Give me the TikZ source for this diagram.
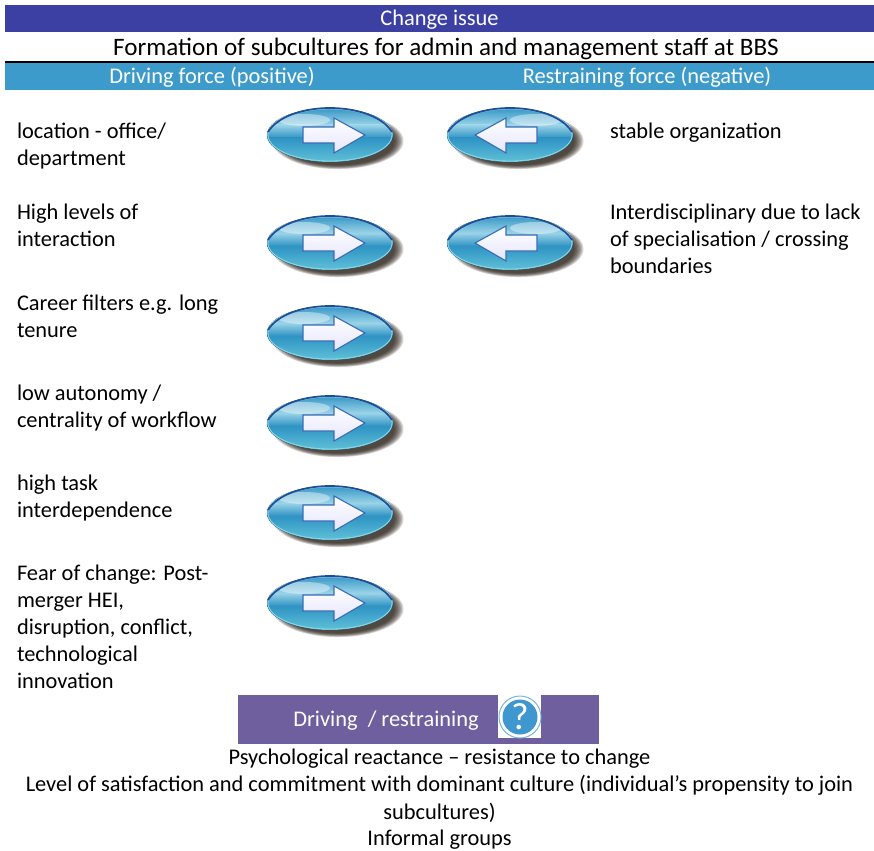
\documentclass[tikz,border=0pt]{standalone}
\usepackage{fontspec}
\setmainfont{Carlito}[Ligatures=Common]
\definecolor{barindigo}{HTML}{3D40A3}
\definecolor{barblue}{HTML}{3C9BCB}
\definecolor{barpurple}{HTML}{6F5F9E}
\definecolor{btnrim}{HTML}{1F4E96}
\definecolor{btnlight}{HTML}{9AD3E8}
\definecolor{btnmid}{HTML}{2F93C4}
\definecolor{btnlow}{HTML}{62C3D8}
\definecolor{arrowedge}{HTML}{3A6CB4}
\definecolor{helpblue}{HTML}{3F97CF}
\tikzset{
  x=1pt,y=-1pt,
  every node/.style={font=\fontsize{22.4}{27}\selectfont,inner sep=0pt,outer sep=0pt},
  lefttext/.style={anchor=north west,align=left},
  righttext/.style={anchor=north west,align=left},
  bartext/.style={text=white,anchor=center},
  centertext/.style={anchor=center,align=center},
  buttonshadow/.pic={
    \foreach \r in {1.04,1.02,1.00,0.98,0.96,0.94,0.92,0.90}{
      \fill[black!85!brown,opacity=.17] (8,6) ellipse ({63*\r} and {27*\r});
    }
  },
  buttonpic/.pic={
    \begin{scope}
      \clip (0,0) ellipse (63 and 27);
      \fill[top color=btnmid,bottom color=btnlight] (-64,-28) rectangle (64,-10);
      \fill[top color=btnlight,bottom color=btnmid] (-64,-10) rectangle (64,3);
      \fill[top color=btnmid,bottom color=btnlow] (-64,3) rectangle (64,28);
      \fill[white,opacity=.4] (-26,-15) ellipse (26 and 6);
    \end{scope}
    \draw[btnlow!70!white,line width=.8pt] (0,0) ellipse (62 and 26);
    \draw[btnrim,line width=1.7pt] (-62,-3) .. controls (-42,-35) and (42,-35) .. (62,-3);
    \draw[arrowedge,line width=1.1pt,top color=white,bottom color=white!90!blue,line join=miter]
      (-27,-8) -- (4,-8) -- (4,-17) -- (35,0) -- (4,18) -- (4,8) -- (-27,8) -- cycle;
  },
}
\begin{document}
\begin{tikzpicture}
\useasboundingbox (0,0) rectangle (874,850);
\node[fill=barindigo,minimum width=869pt,minimum height=27pt,anchor=north west] (topbar) at (5,5) {};
\node[bartext] (changeissue) at (439.5,20) {Change issue};
\node[centertext,font=\fontsize{25.1}{27}\selectfont] (formation) at (446,49) {Formation of subcultures for admin and management staff at BBS};
\node[fill=black,minimum width=869pt,minimum height=1.6pt,anchor=north west] (rule) at (5,61) {};
\node[fill=barblue,minimum width=869pt,minimum height=27pt,anchor=north west] (forcebar) at (5,63) {};
\node[bartext] (driving) at (212,77.5) {Driving force (positive)};
\node[bartext] (restraining) at (647,77.5) {Restraining force (negative)};

\node[lefttext] (l1) at (17,123) {location - office/\\department};
\node[lefttext] (l2) at (17,204) {High levels of\\interaction};
\node[lefttext] (l3) at (17,295) {Career filters e.g. long\\tenure};
\node[lefttext] (l4) at (17,385) {low autonomy /\\centrality of workflow};
\node[lefttext] (l5) at (17,475) {high task\\interdependence};
\node[lefttext] (l6) at (17,565) {Fear of change: Post-\\merger HEI,\\disruption, conflict,\\technological\\innovation};
\node[righttext] (r1) at (610,123) {stable organization};
\node[righttext] (r2) at (610,204) {Interdisciplinary due to lack\\of specialisation / crossing\\boundaries};

\foreach \y in {135,243,333,423,513,603}{
  \pic at (330,\y) {buttonshadow};
  \pic at (330,\y) {buttonpic};
}
\foreach \y in {135,243}{
  \pic at (510,\y) {buttonshadow};
  \pic[xscale=-1] at (510,\y) {buttonpic};
}

\node[fill=barpurple,minimum width=361pt,minimum height=49pt,anchor=north west] (purple) at (238,695) {};
\node[bartext] (drivingrestraining) at (386,721) {Driving\ \ / restraining};
\node[fill=white,minimum width=43pt,minimum height=43pt] (helpbox) at (519.5,716) {};
\node[circle,draw=helpblue!70!white,line width=1pt,minimum size=42pt] (helpring) at (520,717) {};
\node[circle,fill=helpblue,minimum size=35pt] (helpdisc) at (520,717) {};
\node[text=white,font=\fontsize{38}{38}\selectfont] (help) at (520,717) {?};

\node[centertext] (b1) at (439.5,758.7) {Psychological reactance – resistance to change};
\node[centertext] (b2) at (439.5,785.5) {Level of satisfaction and commitment with dominant culture (individual’s propensity to join};
\node[centertext] (b3) at (439.5,812.5) {subcultures)};
\node[centertext] (b4) at (439.5,839.5) {Informal groups};
\end{tikzpicture}
\end{document}
